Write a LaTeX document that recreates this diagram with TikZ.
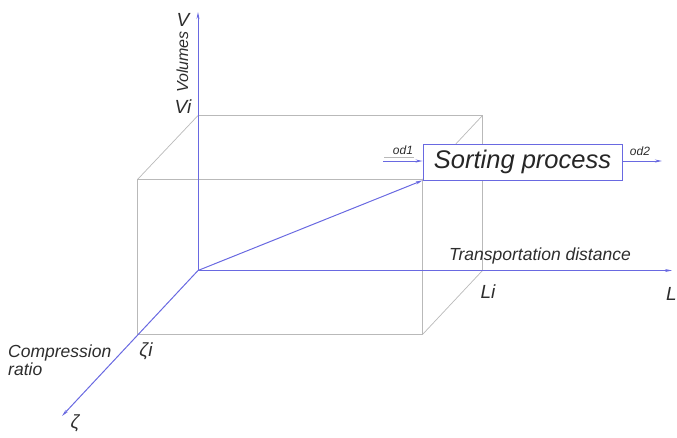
\documentclass[tikz,border=0pt]{standalone}
\usepackage{fontspec}
\setmainfont{Liberation Sans}
\usetikzlibrary{arrows.meta}
\definecolor{axisblue}{RGB}{105,105,225}
\definecolor{boxgray}{RGB}{185,185,185}
\definecolor{txt}{RGB}{45,45,45}
\tikzset{
  axis/.style={draw=axisblue, line width=1pt},
  axisarrow/.style={axis, -{Stealth[length=7pt,width=3pt]}},
  edge/.style={draw=boxgray, line width=0.7pt},
  lbl/.style={text=txt, font=\itshape\fontsize{17.5}{19}\selectfont, inner sep=0pt},
  biglbl/.style={lbl, font=\itshape\fontsize{19}{21}\selectfont},
  small/.style={text=txt, font=\itshape\fontsize{12}{13}\selectfont, inner sep=0pt},
  procbox/.style={draw=axisblue, line width=0.8pt, fill=white, minimum width=199pt, minimum height=36pt, inner sep=0pt, text=black!85, font=\itshape\fontsize{25.5}{27}\selectfont}
}
\begin{document}
\begin{tikzpicture}[x=1pt,y=-1pt]
\useasboundingbox (0,0) rectangle (677,437);
% coordinates
\coordinate (O) at (198,270.5);
\coordinate (Vtip) at (198,12);
\coordinate (Ltip) at (672,270.5);
\coordinate (Ztip) at (62,416);
\coordinate (f1) at (137.5,179.5);
\coordinate (f2) at (422.5,179.5);
\coordinate (f3) at (422.5,334.5);
\coordinate (f4) at (137.5,334.5);
\coordinate (b1) at (198,115.5);
\coordinate (b2) at (482.5,115.5);
\coordinate (b3) at (482.5,270.5);
% box edges
\draw[edge] (f1) -- (f2) -- (f3) -- (f4) -- cycle;
\draw[edge] (b1) -- (b2) -- (b3);
\draw[edge] (b1) -- (f1);
\draw[edge] (b2) -- (f2);
\draw[edge] (b3) -- (f3);
% process box
\node[procbox] (proc) at (522.5,162) {Sorting process};
% axes
\draw[axisarrow] (O) -- (Vtip);
\draw[axisarrow] (O) -- (Ltip);
\draw[axisarrow] (O) -- (Ztip);
\draw[axisarrow] (O) -- (proc.south west);
% inputs / outputs
\coordinate (in) at (383,161);
\coordinate (out) at (662,161);
\draw[axisarrow] (in) -- (in -| proc.west);
\draw[axisarrow] (proc.east |- out) -- (out);
\coordinate (u1) at (384,157);
\coordinate (u2) at (414,157);
\draw[edge, line width=0.5pt] (u1) -- (u2);
\node[small, anchor=base] (od1) at (403,154.5) {od1};
\node[small, anchor=base] (od2) at (640,155) {od2};
% labels
\node[biglbl, anchor=base] (Vlab) at (183,26) {V};
\node[biglbl, anchor=base] (Vilab) at (183,113) {Vi};
\node[lbl, rotate=90, anchor=base, font=\itshape\fontsize{16}{18}\selectfont] (vol) at (188,62) {Volumes};
\node[lbl, anchor=base] (tdist) at (540,260) {Transportation distance};
\node[biglbl, anchor=base] (Lilab) at (488,298) {Li};
\node[biglbl, anchor=base east] (Llab) at (677,300) {L};
\node[biglbl, anchor=base] (zilab) at (146,356) {ζi};
\node[biglbl, anchor=base] (zlab) at (75,428) {ζ};
\node[lbl, anchor=base west] (comp) at (8,357) {Compression};
\node[lbl, anchor=base west] (ratio) at (8,375) {ratio};
\end{tikzpicture}
\end{document}
